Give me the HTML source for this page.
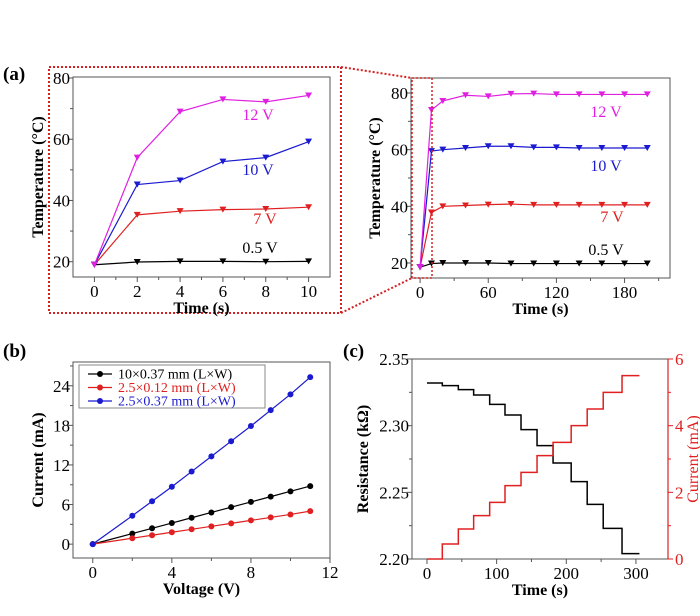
<!DOCTYPE html>
<html><head><meta charset="utf-8"><style>
html,body{margin:0;padding:0;background:#fff;width:700px;height:616px;overflow:hidden}
svg{font-family:"Liberation Serif",serif}
</style></head><body>
<svg id="fig" width="700" height="616" viewBox="0 0 700 616" xmlns="http://www.w3.org/2000/svg">
<rect width="700" height="616" fill="#fff"/>
<text x="3" y="80" font-size="19" font-weight="bold">(a)</text>
<text x="3" y="357" font-size="19" font-weight="bold">(b)</text>
<text x="343" y="357" font-size="19" font-weight="bold">(c)</text>
<rect x="49" y="67" width="292" height="246" fill="none" stroke="#d42020" stroke-width="2" stroke-dasharray="2,2"/>
<line x1="341" y1="67" x2="412" y2="78" stroke="#d42020" stroke-width="2" stroke-dasharray="2,2"/>
<line x1="341" y1="313" x2="412" y2="278" stroke="#d42020" stroke-width="2" stroke-dasharray="2,2"/>
</svg>
<script>
// ---- Panel a (zoom) data
const zTime=[0,2,4,6,8,10];
const z12=[19,54,69,73,72.2,74.3];
const z10=[19,45.2,46.5,52.7,54,59.2];
const z7=[19,35.3,36.5,37,37.2,37.8];
const z05=[19,19.9,20.1,20.1,20,20.1];
const zXTicks=[0,2,4,6,8,10];
const zYTicks=[20,40,60,80];
// ---- Panel a (full) data
const fTime=[0,10,20,40,60,80,100,120,140,160,180,200];
const f12=[18.5,74,77.2,79.2,78.8,79.7,79.8,79.5,79.5,79.5,79.5,79.5];
const f10=[18.5,59.5,60,60.6,61.2,61.2,60.8,60.8,60.6,60.6,60.6,60.6];
const f7=[18.5,37.8,40,40.3,40.6,40.8,40.5,40.5,40.5,40.5,40.5,40.5];
const f05=[18.5,19.8,20,20,20,19.8,19.8,19.8,19.8,19.8,19.8,19.8];
const fXTicks=[0,60,120,180];
const fYTicks=[20,40,60,80];
// ---- Panel b data
const bVolt=[0,2,3,4,5,6,7,8,9,10,11];
const bBlack=[0,1.6,2.4,3.2,4,4.8,5.6,6.4,7.2,8,8.8];
const bRed=[0,0.9,1.35,1.8,2.25,2.7,3.15,3.6,4.05,4.5,5.0];
const bBlue=[0,4.3,6.5,8.7,11,13.3,15.6,17.9,20.3,22.7,25.3];
const bXTicks=[0,4,8,12];
const bYTicks=[0,6,12,18,24];
// ---- Panel c data
const cStepTimes=[0,22,45,67,90,112,135,158,181,207,230,253,280,305];
const cRes=[2.332,2.330,2.327,2.323,2.316,2.308,2.297,2.285,2.272,2.258,2.241,2.223,2.204];
const cCur=[0,0.45,0.9,1.3,1.7,2.2,2.6,3.1,3.5,4.0,4.5,5.0,5.5];
const cXTicks=[0,100,200,300];
const cYTicks=[2.20,2.25,2.30,2.35];
const cY2Ticks=[0,2,4,6];

const NS='http://www.w3.org/2000/svg';
const svg=document.getElementById('fig');
function mk(tag,attrs,parent){const e=document.createElementNS(NS,tag);for(const k in attrs)e.setAttribute(k,attrs[k]);(parent||svg).appendChild(e);return e;}
function scale(d0,d1,r0,r1){return v=>r0+(v-d0)*(r1-r0)/(d1-d0);}

function axes(p,name){
  const g=mk('g',{});
  
  
  const box=mk('rect',{x:p.x0,y:p.y0,width:p.x1-p.x0,height:p.y1-p.y0,fill:'none',stroke:'#555','stroke-width':1},g);
  
  
  p.xt.forEach(v=>{const x=p.sx(v);mk('line',{x1:x,x2:x,y1:p.y1,y2:p.y1+5,stroke:'#555'},g);
    const t=mk('text',{x:x,y:p.y1+20,'font-size':17,'text-anchor':'middle'},g);t.textContent=v;
    
    });
  (p.xm||[]).forEach(v=>{const x=p.sx(v);mk('line',{x1:x,x2:x,y1:p.y1,y2:p.y1+3,stroke:'#555'},g);});
  p.yt.forEach(v=>{const y=p.sy(v);mk('line',{x1:p.x0-5,x2:p.x0,y1:y,y2:y,stroke:'#555'},g);
    const t=mk('text',{x:p.x0-3,y:y+6,'font-size':17,'text-anchor':'end'},g);t.textContent=p.yf?p.yf(v):v;
    
    });
  (p.ym||[]).forEach(v=>{const y=p.sy(v);mk('line',{x1:p.x0-3,x2:p.x0,y1:y,y2:y,stroke:'#555'},g);});
  const xt=mk('text',{x:(p.x0+p.x1)/2,y:p.y1+36,'font-size':16,'font-weight':'bold','text-anchor':'middle'},g);xt.textContent=p.xl;
  
  
  const yx=p.ylx, yy=(p.y0+p.y1)/2;
  const yt=mk('text',{x:yx,y:yy,'font-size':16,'font-weight':'bold','text-anchor':'middle',transform:`rotate(-90 ${yx} ${yy})`},g);yt.textContent=p.yl;
  
  
  return g;
}
function tri(x,y,c,g){return mk('path',{d:`M${x-3.5},${y-3} L${x+3.5},${y-3} L${x},${y+3} Z`,fill:c},g);}
function series(xs,ys,sx,sy,c,marker,name){
  const g=mk('g',{});
  
  
  mk('polyline',{points:xs.map((x,i)=>sx(x)+','+sy(ys[i])).join(' '),fill:'none',stroke:c,'stroke-width':1.2},g);
  xs.forEach((x,i)=>{let m;
    if(marker==='tri')m=tri(sx(x),sy(ys[i]),c,g);else m=mk('circle',{cx:sx(x),cy:sy(ys[i]),r:3,fill:c},g);
    
    });
}
function label(x,y,txt,c,name){const t=mk('text',{x:x,y:y,'font-size':16,fill:c,'text-anchor':'middle'});t.textContent=txt;
  
  }

const cols={v12:'#e020e0',v10:'#1a1ad0',v7:'#e02020',v05:'#000'};
// Panel a zoom
{const p={x0:73,x1:330,y0:77,y1:277,sx:scale(-1,11,73,330),sy:scale(15,80,277,78),xt:zXTicks,xm:[1,3,5,7,9],yt:zYTicks,ym:[30,50,70],xl:'Time (s)',yl:'Temperature (\u00B0C)',ylx:43};
axes(p,'zoom-temperature-chart');
series(zTime,z05,p.sx,p.sy,cols.v05,'tri','series-0-5v-zoom');
series(zTime,z7,p.sx,p.sy,cols.v7,'tri','series-7v-zoom');
series(zTime,z10,p.sx,p.sy,cols.v10,'tri','series-10v-zoom');
series(zTime,z12,p.sx,p.sy,cols.v12,'tri','series-12v-zoom');
label(258,120,'12 V',cols.v12,'label-12v-zoom');label(258,175,'10 V',cols.v10,'label-10v-zoom');
label(265,224,'7 V',cols.v7,'label-7v-zoom');label(260,253,'0.5 V',cols.v05,'label-0-5v-zoom');}
// Panel a full
{const p={x0:411,x1:670,y0:78,y1:278,sx:scale(-8,220,411,670),sy:scale(14.7,85.3,278,78),xt:fXTicks,xm:[30,90,150,210],yt:fYTicks,ym:[30,50,70],xl:'Time (s)',yl:'Temperature (\u00B0C)',ylx:380};
axes(p,'full-temperature-chart');
series(fTime,f05,p.sx,p.sy,cols.v05,'tri','series-0-5v');
series(fTime,f7,p.sx,p.sy,cols.v7,'tri','series-7v');
series(fTime,f10,p.sx,p.sy,cols.v10,'tri','series-10v');
series(fTime,f12,p.sx,p.sy,cols.v12,'tri','series-12v');
label(606,117,'12 V',cols.v12,'label-12v');label(606,171,'10 V',cols.v10,'label-10v');
label(612,222,'7 V',cols.v7,'label-7v');label(606,255,'0.5 V',cols.v05,'label-0-5v');
const r=mk('rect',{x:412,y:78,width:20,height:200,fill:'none',stroke:'#d42020','stroke-width':1.5,'stroke-dasharray':'2,2'});

}
// Panel b
{const p={x0:73,x1:330,y0:362,y1:558,sx:scale(-1,12,73,330),sy:scale(-2.1,27.6,558,362),xt:bXTicks,xm:[2,6,10],yt:bYTicks,ym:[3,9,15,21,27],xl:'Voltage (V)',yl:'Current (mA)',ylx:43};
axes(p,'iv-chart');
series(bVolt,bBlack,p.sx,p.sy,'#000','dot','series-10x0-37');
series(bVolt,bRed,p.sx,p.sy,'#e02020','dot','series-2-5x0-12');
series(bVolt,bBlue,p.sx,p.sy,'#1a1ad0','dot','series-2-5x0-37');
const lg=mk('g',{});


mk('rect',{x:79,y:365,width:186,height:43,fill:'#fff',stroke:'#888'},lg);
[['10\u00D70.37 mm (L\u00D7W)','#000'],['2.5\u00D70.12 mm (L\u00D7W)','#e02020'],['2.5\u00D70.37 mm (L\u00D7W)','#1a1ad0']].forEach((e,i)=>{
  const y=374+i*13.5;
  const eg=mk('g',{},lg);
  
  
  mk('line',{x1:88,x2:112,y1:y,y2:y,stroke:e[1],'stroke-width':1.2},eg);
  mk('circle',{cx:100,cy:y,r:3,fill:e[1]},eg);
  const t=mk('text',{x:118,y:y+4.5,'font-size':14,fill:e[1]},eg);t.textContent=e[0];});}
// Panel c
{const sx=scale(-21.5,346,412,668), sy=scale(2.20,2.35,559,359), sy2=scale(0,6,559,359);
const p={x0:412,x1:668,y0:359,y1:559,sx:sx,sy:sy,xt:cXTicks,xm:[50,150,250],yt:cYTicks,ym:[2.225,2.275,2.325],yf:v=>v.toFixed(2),xl:'Time (s)',yl:'Resistance (k\u03A9)',ylx:368};
axes(p,'resistance-current-chart');
const g2=mk('g',{});


mk('line',{x1:668,x2:668,y1:359,y2:559,stroke:'#e02020','stroke-width':1.2},g2);
cY2Ticks.forEach(v=>{const y=sy2(v);mk('line',{x1:668,x2:673,y1:y,y2:y,stroke:'#e02020'},g2);
  const t=mk('text',{x:675,y:y+6,'font-size':17,fill:'#e02020'},g2);t.textContent=v;
  
  });
[1,3,5].forEach(v=>{const y=sy2(v);mk('line',{x1:668,x2:671,y1:y,y2:y,stroke:'#e02020'},g2);});
const yt=mk('text',{x:0,y:0,'font-size':16,fill:'#e02020','text-anchor':'middle',transform:'translate(698,459) rotate(-90)'},g2);yt.textContent='Current (mA)';


function stepPath(vals,s){let d='';for(let i=0;i<vals.length;i++){const xa=sx(cStepTimes[i]),xb=sx(cStepTimes[i+1]);const y=s(vals[i]);d+=(i===0?'M':'L')+xa+','+y+' L'+xb+','+y+' ';}return d;}
const r=mk('path',{d:stepPath(cRes,sy),fill:'none',stroke:'#000','stroke-width':1.5});


const c=mk('path',{d:stepPath(cCur,sy2),fill:'none',stroke:'#e02020','stroke-width':1.5});

}
</script>
</body></html>
